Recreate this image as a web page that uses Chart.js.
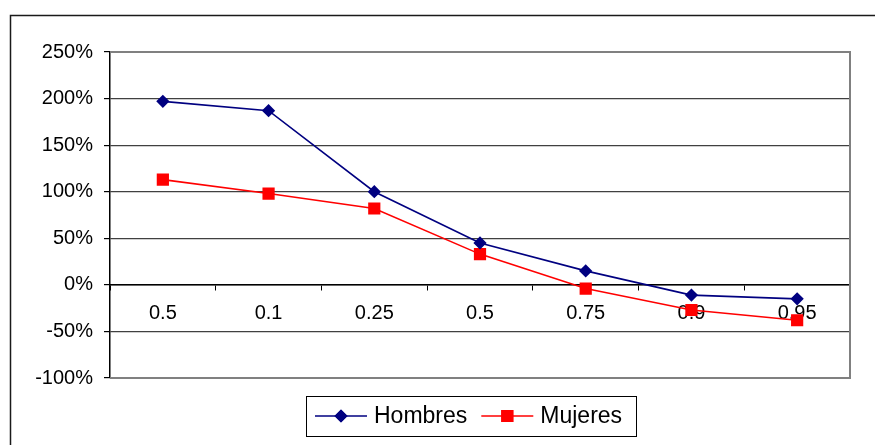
<!DOCTYPE html>
<html>
<head>
<meta charset="utf-8">
<script src="https://cdn.jsdelivr.net/npm/chart.js@4.4.1/dist/chart.umd.min.js"></script>
<style>
  html, body { margin: 0; padding: 0; background: #fff; }
  #chart { display: block; }
</style>
</head>
<body>
<canvas id="chart" width="875" height="445"></canvas>
<script>
// Data
const categories = ['0.5', '0.1', '0.25', '0.5', '0.75', '0.9', '0.95'];
const hombres = [197, 187, 100, 45, 15, -11, -15];
const mujeres = [113, 98, 82, 33, -4, -27, -38];
const yTicks = [-100, -50, 0, 50, 100, 150, 200, 250];

const FONT = 'Liberation Sans, Arial, sans-serif';

// Frame around the whole chart and the plot area
const framePlugin = {
  id: 'frame',
  beforeDraw(chart) {
    const ctx = chart.ctx;
    ctx.save();
    ctx.fillStyle = '#fff';
    ctx.fillRect(0, 0, chart.width, chart.height);
    ctx.strokeStyle = '#1a1a1a';
    ctx.lineWidth = 1.5;
    ctx.strokeRect(10.5, 15.5, 1000, 1000);
    ctx.restore();
  },
  beforeDatasetsDraw(chart) {
    const { ctx, chartArea: a } = chart;
    ctx.save();
    ctx.strokeStyle = '#808080';
    ctx.lineWidth = 2;
    ctx.beginPath();
    ctx.moveTo(a.left, a.top);
    ctx.lineTo(a.right, a.top);
    ctx.lineTo(a.right, a.bottom);
    ctx.lineTo(a.left, a.bottom);
    ctx.stroke();
    ctx.restore();
  }
};

// Excel style legend: line with marker, inside a box
const legendPlugin = {
  id: 'boxLegend',
  afterDraw(chart) {
    const ctx = chart.ctx;
    const box = { x: 306, y: 396, w: 330, h: 40 };
    ctx.save();
    ctx.strokeStyle = '#000';
    ctx.lineWidth = 1;
    ctx.strokeRect(box.x + 0.5, box.y + 0.5, box.w, box.h);
    ctx.font = '23px ' + FONT;
    ctx.textBaseline = 'middle';
    ctx.fillStyle = '#000';
    const cy = box.y + box.h / 2;
    let x = box.x + 9;
    chart.data.datasets.forEach(ds => {
      ctx.strokeStyle = ds.borderColor;
      ctx.lineWidth = 1.5;
      ctx.beginPath();
      ctx.moveTo(x, cy);
      ctx.lineTo(x + 52, cy);
      ctx.stroke();
      Chart.helpers.drawPoint(ctx, {
        pointStyle: ds.pointStyle,
        radius: ds.pointRadius,
        borderWidth: 1
      }, x + 26, cy);
      ctx.fillStyle = ds.pointBackgroundColor;
      ctx.strokeStyle = ds.pointBorderColor;
      ctx.fill();
      ctx.stroke();
      ctx.fillStyle = '#000';
      ctx.fillText(ds.label, x + 59, cy + 1);
      x += 59 + ctx.measureText(ds.label).width + 14;
    });
    ctx.restore();
  }
};

new Chart(document.getElementById('chart'), {
  type: 'line',
  data: {
    labels: categories,
    datasets: [
      {
        label: 'Hombres',
        data: hombres,
        borderColor: '#000080',
        backgroundColor: '#000080',
        pointBackgroundColor: '#000080',
        pointBorderColor: '#000080',
        pointStyle: 'rectRot',
        pointRadius: 5.5,
        pointHoverRadius: 5.5,
        borderWidth: 1.6,
        tension: 0
      },
      {
        label: 'Mujeres',
        data: mujeres,
        borderColor: '#ff0000',
        backgroundColor: '#ff0000',
        pointBackgroundColor: '#ff0000',
        pointBorderColor: '#ff0000',
        pointStyle: 'rect',
        pointRadius: 7.5,
        pointHoverRadius: 7.5,
        borderWidth: 1.6,
        tension: 0
      }
    ]
  },
  options: {
    responsive: false,
    animation: false,
    devicePixelRatio: 1,
    layout: { padding: { left: 10, top: 52, right: 25, bottom: 67 } },
    plugins: {
      legend: { display: false },
      tooltip: { enabled: false }
    },
    scales: {
      x: {
        position: { y: 0 },
        offset: true,
        grid: {
          offset: true,
          drawOnChartArea: false,
          drawTicks: true,
          tickLength: 5,
          tickColor: '#000'
        },
        border: { display: true, color: '#000', width: 1.5 },
        ticks: {
          color: '#000',
          font: { family: FONT, size: 20 },
          padding: 12,
          maxRotation: 0,
          autoSkip: false
        }
      },
      y: {
        min: -100,
        max: 250,
        afterBuildTicks(scale) {
          scale.ticks = yTicks.map(v => ({ value: v }));
        },
        afterFit(scale) {
          scale.width = 100;
        },
        grid: {
          color: '#404040',
          lineWidth: 1.2,
          tickLength: 6,
          tickColor: '#000'
        },
        border: { display: true, color: '#000', width: 1.5 },
        ticks: {
          color: '#000',
          font: { family: FONT, size: 20 },
          padding: 11,
          callback: v => v + '%'
        }
      }
    }
  },
  plugins: [framePlugin, legendPlugin]
});
</script>
</body>
</html>
